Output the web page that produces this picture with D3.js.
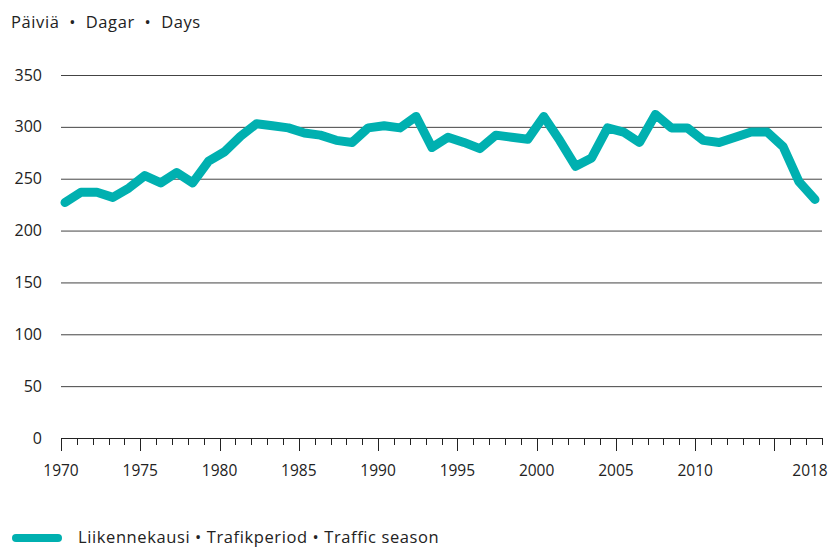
<!DOCTYPE html>
<html>
<head>
  <meta charset="utf-8">
  <title>Liikennekausi</title>
  <style>
    body {
      margin: 0;
      background: #fff;
      font-family: "Open Sans", Arial, sans-serif;
    }
    text {
      fill: #222;
    }
  </style>
  <script src="https://d3js.org/d3.v7.min.js"></script>
</head>
<body>
  <svg id="chart" width="831" height="548"></svg>

  <script>
    var width = 831,
        height = 548;

    // Traffic season length (days), 1970-2017
    var years = d3.range(1970, 2018);
    var days = [
      227, 237, 237, 232, 241, 253, 246, 256, 246, 267,
      276, 291, 303, 301, 299, 294, 292, 287, 285, 299,
      301, 299, 310, 280, 290, 285, 279, 292, 290, 288,
      310, 287, 262, 270, 299, 295, 285, 312, 299, 299,
      287, 285, 290, 295, 295, 281, 247, 230
    ];

    var yTicks = [0, 50, 100, 150, 200, 250, 300, 350];
    var xLabels = [1970, 1975, 1980, 1985, 1990, 1995, 2000, 2005, 2010, 2018];
    var majorYears = [1970, 1975, 1980, 1985, 1990, 1995, 2000, 2005, 2010, 2015];

    var titleText = "Päiviä  •  Dagar  •  Days";
    var legendText = "Liikennekausi • Trafikperiod • Traffic season";
    var teal = "#00b0b0";

    var svg = d3.select("#chart");

    var y = d3.scaleLinear()
        .domain([0, 350])
        .range([438, 75]);

    // axis ticks run 1970..2018
    var xAxis = d3.scaleLinear()
        .domain([1970, 2018])
        .range([61, 822]);

    // the line itself sits slightly inset
    var xLine = d3.scaleLinear()
        .domain([1970, 2017])
        .range([65, 815]);

    svg.append("text")
        .attr("x", 11)
        .attr("y", 28)
        .style("font-size", "16.5px")
        .style("letter-spacing", "0.6px")
        .style("white-space", "pre")
        .text(titleText);

    // gridlines
    svg.append("g")
        .selectAll("line")
        .data(yTicks.filter(d => d > 0))
        .join("line")
        .attr("x1", 61)
        .attr("x2", 822)
        .attr("y1", d => y(d) + 0.5)
        .attr("y2", d => y(d) + 0.5)
        .attr("stroke", "#444")
        .attr("stroke-width", 1);

    svg.append("g")
        .selectAll("text")
        .data(yTicks)
        .join("text")
        .attr("x", 42)
        .attr("y", d => y(d))
        .attr("dy", "0.35em")
        .attr("text-anchor", "end")
        .style("font-size", "16px")
        .text(d => d);

    // x axis baseline + ticks
    var axisG = svg.append("g");
    axisG.append("line")
        .attr("x1", 61)
        .attr("x2", 822)
        .attr("y1", 438.5)
        .attr("y2", 438.5)
        .attr("stroke", "#222")
        .attr("stroke-width", 1);

    axisG.selectAll("line.tick")
        .data(d3.range(1970, 2019))
        .join("line")
        .attr("class", "tick")
        .attr("x1", d => Math.round(xAxis(d)) + 0.5)
        .attr("x2", d => Math.round(xAxis(d)) + 0.5)
        .attr("y1", 438)
        .attr("y2", d => majorYears.includes(d) ? 451 : 445)
        .attr("stroke", "#222")
        .attr("stroke-width", 1);

    axisG.selectAll("text")
        .data(xLabels)
        .join("text")
        .attr("x", d => d === 2018 ? xAxis(d) - 12 : xAxis(d))
        .attr("y", 476)
        .attr("text-anchor", "middle")
        .style("font-size", "15.5px")
        .text(d => d);

    var line = d3.line()
        .x((d, i) => xLine(years[i]))
        .y(d => y(d));

    svg.append("path")
        .datum(days)
        .attr("d", line)
        .attr("fill", "none")
        .attr("stroke", teal)
        .attr("stroke-width", 9)
        .attr("stroke-linejoin", "round")
        .attr("stroke-linecap", "round");

    // legend
    svg.append("line")
        .attr("x1", 16)
        .attr("x2", 58)
        .attr("y1", 538)
        .attr("y2", 538)
        .attr("stroke", teal)
        .attr("stroke-width", 8)
        .attr("stroke-linecap", "round");

    svg.append("text")
        .attr("x", 78)
        .attr("y", 543)
        .style("font-size", "16.5px")
        .style("letter-spacing", "0.6px")
        .text(legendText);
  </script>
</body>
</html>
